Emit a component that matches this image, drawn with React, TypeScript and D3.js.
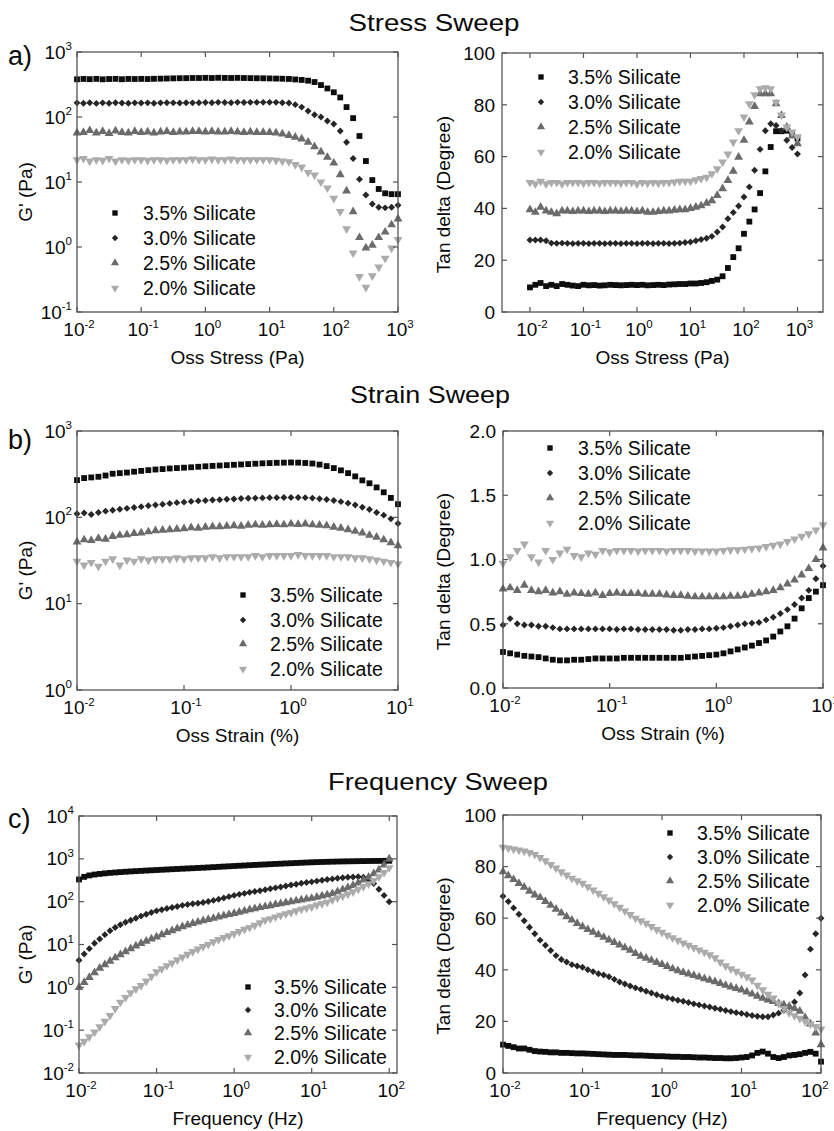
import React from "react";
import * as d3 from "d3";

// ---------- data ----------
const seriesNames = ["3.5% Silicate", "3.0% Silicate", "2.5% Silicate", "2.0% Silicate"];

const stressX = [0.01, 0.0126, 0.0158, 0.02, 0.0251, 0.0316, 0.0398, 0.0501, 0.0631, 0.0794,
  0.1, 0.126, 0.158, 0.2, 0.251, 0.316, 0.398, 0.501, 0.631, 0.794,
  1, 1.26, 1.58, 2, 2.51, 3.16, 3.98, 5.01, 6.31, 7.94,
  10, 12.6, 15.8, 20, 25.1, 31.6, 39.8, 50.1, 63.1, 79.4,
  100, 126, 158, 200, 251, 316, 398, 501, 631, 794, 1000];

const stressG35 = [380, 385, 382, 386, 380, 384, 386, 381, 385, 384, 386, 384, 387, 389, 391, 393, 395, 396, 398, 398,
  400, 398, 401, 399, 398, 400, 398, 396, 395, 394, 392, 390, 388, 385, 378, 372, 362, 345, 310, 275,
  240, 200, 142, 96, 51, 21, 10.7, 7.8, 6.7, 6.5, 6.5];
const stressG30 = [165, 163, 166, 162, 165, 163, 166, 164, 163, 165, 164, 165, 163, 165, 166, 165, 164, 166, 165, 166,
  167, 166, 168, 167, 166, 168, 167, 168, 168, 168, 168, 168, 166, 164, 155, 142, 124, 108, 100, 87,
  78, 61, 41, 23, 11, 6.3, 4.6, 4.1, 4.0, 4.1, 4.4];
const stressG25 = [57, 58, 62, 57, 60, 56, 61, 58, 57, 60, 58, 59, 57, 59, 60, 58, 59, 59, 60, 60,
  59, 60, 59, 59, 60, 59, 58, 59, 58, 58, 58, 57, 55, 52, 49, 46, 41, 35, 29, 24,
  19.6, 13, 7.3, 3.5, 1.4, 0.97, 1.07, 1.4, 1.7, 2.2, 2.7];
const stressG20 = [22, 23, 21, 22, 21.5, 23, 21, 22, 21.5, 22, 22, 21.5, 22, 22, 21.5, 22, 22, 22, 22.5, 22,
  22, 22.5, 22, 22, 22.5, 22, 22, 22, 22, 22, 22, 21.5, 21, 20.5, 18.5, 17, 14, 12.8, 10, 8.1,
  5.6, 3.5, 1.9, 0.81, 0.35, 0.24, 0.36, 0.49, 0.67, 0.96, 1.3];

const stressT35 = [9.5, 10.5, 11.2, 10, 10.5, 10, 10.8, 10.5, 10.2, 10, 10.5, 10.3, 10.4, 10.2, 10.3, 10.5, 10.4, 10.3, 10.4, 10.5,
  10.4, 10.5, 10.3, 10.4, 10.5, 10.4, 10.6, 10.7, 10.8, 10.8, 11, 11, 11.2, 11.5, 12, 12.5, 13.8, 17, 21.2, 24.6,
  30.2, 34.9, 39.6, 45.9, 54.3, 63.7, 69.8, 69.8, 70, 68.5, 67];
const stressT30 = [27.8, 27.8, 27.8, 27.5, 26.6, 26.5, 26.6, 26.5, 26.4, 26.5, 26.5, 26.4, 26.5, 26.5, 26.4, 26.5, 26.5, 26.4, 26.5, 26.5,
  26.4, 26.5, 26.5, 26.4, 26.5, 26.5, 26.4, 26.5, 26.6, 26.8, 27, 27.5, 28, 28.5, 29.2, 30.9, 32.8, 36, 38.4, 40.9,
  44.4, 48.3, 54.7, 62.8, 70, 72.7, 72, 70, 66.3, 63.5, 61];
const stressT25 = [39.5, 38.5, 40.5, 39, 38.5, 38, 39, 39, 38.8, 39, 39, 38.8, 39, 39, 38.8, 39, 39, 38.9, 39, 39,
  38.8, 39, 38.5, 38.5, 38.8, 39, 39, 39.3, 39.5, 39.5, 40, 40.5, 41, 42, 43, 45, 47.6, 50.8, 54.4, 59.8,
  66.3, 73.4, 79.4, 84.3, 84.3, 84.3, 80.4, 75.9, 71.4, 68, 65];
const stressT20 = [50, 49.5, 50.5, 49.5, 50, 50, 49.5, 50, 50, 50, 49.8, 50, 50, 49.8, 50, 50, 50, 49.8, 50, 50,
  49.5, 50, 49.8, 50, 49.8, 50, 50, 50.2, 50.5, 50.5, 50.5, 51, 51.5, 52, 53.4, 55.3, 57.9, 61, 65.6, 70,
  75.3, 80.4, 83.9, 86.2, 86.6, 86.2, 81, 76, 71.4, 69.5, 67.6];

const strainX = [0.01, 0.01166, 0.01359, 0.01585, 0.01848, 0.02154, 0.02512, 0.02929, 0.03415, 0.03981,
  0.04642, 0.05412, 0.0631, 0.07356, 0.08577, 0.1, 0.1166, 0.1359, 0.1585, 0.1848,
  0.2154, 0.2512, 0.2929, 0.3415, 0.3981, 0.4642, 0.5412, 0.631, 0.7356, 0.8577,
  1, 1.166, 1.359, 1.585, 1.848, 2.154, 2.512, 2.929, 3.415, 3.981,
  4.642, 5.412, 6.31, 7.356, 8.577, 10];

const strainG35 = [270, 285, 290, 295, 305, 320, 325, 330, 338, 345, 352, 358, 362, 368, 372, 376, 380, 385, 390, 394,
  398, 402, 406, 410, 414, 418, 422, 425, 428, 430, 432, 430, 426, 420, 408, 392, 372, 350, 325, 298,
  268, 248, 222, 195, 168, 142];
const strainG30 = [110, 112, 108, 114, 118, 121, 124, 127, 130, 133, 136, 139, 142, 145, 148, 150, 153, 155, 157, 159,
  160, 162, 163, 165, 166, 167, 168, 169, 169, 170, 170, 170, 169, 167, 164, 161, 157, 152, 146, 139,
  131, 123, 114, 106, 96, 85];
const strainG25 = [52, 55, 54, 57, 56, 60, 62, 63, 65, 66, 68, 70, 71, 72, 73, 74, 76, 75, 77, 78,
  78, 79, 80, 79, 81, 82, 81, 82, 83, 82, 84, 83, 84, 82, 81, 80, 77, 75, 72, 69,
  66, 62, 59, 55, 51, 47];
const strainG20 = [31, 28, 30, 27, 31, 33, 28, 32, 31, 33, 32, 33, 33, 33, 34, 33, 34, 34, 34, 35,
  34, 35, 35, 35, 35, 36, 35, 36, 36, 36, 36, 37, 36, 36, 36, 36, 35, 35, 35, 34,
  34, 33, 32, 31, 30, 29];

const strainT35 = [0.28, 0.27, 0.26, 0.25, 0.245, 0.24, 0.23, 0.22, 0.215, 0.215, 0.22, 0.22, 0.225, 0.23, 0.23, 0.23, 0.23, 0.235, 0.235, 0.235,
  0.235, 0.235, 0.235, 0.235, 0.235, 0.235, 0.24, 0.245, 0.25, 0.255, 0.26, 0.27, 0.285, 0.3, 0.315, 0.33, 0.35, 0.37, 0.4, 0.44,
  0.48, 0.54, 0.62, 0.7, 0.75, 0.8];
const strainT30 = [0.49, 0.54, 0.5, 0.49, 0.49, 0.48, 0.48, 0.47, 0.46, 0.46, 0.46, 0.46, 0.46, 0.46, 0.46, 0.46, 0.455, 0.46, 0.46, 0.455,
  0.455, 0.455, 0.455, 0.455, 0.45, 0.45, 0.455, 0.455, 0.46, 0.46, 0.465, 0.47, 0.48, 0.49, 0.5, 0.505, 0.51, 0.53, 0.55, 0.58,
  0.61, 0.65, 0.7, 0.76, 0.85, 0.95];
const strainT25 = [0.77, 0.78, 0.76, 0.8, 0.76, 0.75, 0.76, 0.74, 0.75, 0.73, 0.74, 0.735, 0.73, 0.74, 0.72, 0.735, 0.74, 0.735, 0.735, 0.735,
  0.73, 0.73, 0.73, 0.725, 0.72, 0.72, 0.715, 0.71, 0.71, 0.71, 0.71, 0.71, 0.715, 0.715, 0.72, 0.73, 0.74, 0.75, 0.76, 0.78,
  0.81, 0.84, 0.88, 0.93, 1.0, 1.09];
const strainT20 = [0.97, 1.02, 1.07, 1.12, 1.02, 0.98, 1.07, 1.0, 1.05, 1.08, 1.03, 1.02, 1.05, 1.04, 1.07, 1.06, 1.07, 1.07, 1.07, 1.065,
  1.07, 1.07, 1.07, 1.065, 1.07, 1.07, 1.07, 1.065, 1.065, 1.065, 1.065, 1.07, 1.075, 1.075, 1.08, 1.085, 1.09, 1.1, 1.11, 1.12,
  1.14, 1.16, 1.18, 1.2, 1.23, 1.27];

const freqX = [0.01, 0.01166, 0.01359, 0.01585, 0.01848, 0.02154, 0.02512, 0.02929, 0.03415, 0.03981,
  0.04642, 0.05412, 0.0631, 0.07356, 0.08577, 0.1, 0.1166, 0.1359, 0.1585, 0.1848,
  0.2154, 0.2512, 0.2929, 0.3415, 0.3981, 0.4642, 0.5412, 0.631, 0.7356, 0.8577,
  1, 1.166, 1.359, 1.585, 1.848, 2.154, 2.512, 2.929, 3.415, 3.981,
  4.642, 5.412, 6.31, 7.356, 8.577, 10, 11.66, 13.59, 15.85, 18.48,
  21.54, 25.12, 29.29, 34.15, 39.81, 46.42, 54.12, 63.1, 73.56, 85.77, 100];

const freqG35 = [330, 380, 410, 430, 445, 458, 470, 480, 490, 500, 508, 516, 524, 532, 540, 548, 556, 564, 572, 580,
  588, 596, 604, 612, 620, 630, 640, 650, 660, 670, 680, 690, 700, 710, 720, 730, 740, 750, 760, 770,
  780, 790, 800, 810, 820, 830, 838, 845, 852, 858, 864, 870, 874, 878, 882, 886, 889, 892, 895, 898, 900];
const freqG30 = [4.3, 6, 8, 10.7, 13.5, 17, 21, 25, 29, 33, 37, 41, 46, 51, 56, 61, 65, 69, 73, 77,
  82, 86, 89, 92, 96, 101, 107, 114, 122, 131, 140, 148, 156, 165, 172, 180, 190, 200, 210, 220,
  232, 244, 256, 268, 280, 290, 302, 315, 328, 340, 352, 362, 372, 378, 380, 370, 320, 265, 195, 140, 100];
const freqG25 = [1.0, 1.3, 1.7, 2.2, 2.8, 3.4, 4.1, 4.9, 5.8, 6.8, 8.0, 9.3, 10.6, 12, 13.5, 15, 17, 19, 21, 23.5,
  26, 28.5, 31, 33.5, 36, 38.5, 41, 44, 47, 50, 53, 57, 61, 65, 69, 73, 77, 81, 86, 90,
  95, 100, 105, 110, 115, 120, 128, 136, 145, 155, 172, 192, 213, 240, 275, 320, 375, 450, 550, 720, 1000];
const freqG20 = [0.045, 0.055, 0.07, 0.09, 0.12, 0.16, 0.22, 0.32, 0.45, 0.58, 0.75, 0.92, 1.1, 1.4, 1.8, 2.3, 2.7, 3.2, 3.7, 4.4,
  5.1, 5.9, 6.8, 7.8, 8.9, 10, 11.5, 13, 14.5, 16, 18, 20, 22.5, 25, 28, 32, 37, 40, 44, 48,
  52, 56, 61, 66, 71, 76, 83, 90, 97, 110, 122, 135, 150, 170, 195, 225, 260, 310, 380, 480, 620];

const freqT35 = [11, 10.5, 10, 9.5, 9.5, 9, 8.5, 8.3, 8.2, 8, 8, 7.8, 7.8, 7.7, 7.6, 7.6, 7.5, 7.4, 7.3, 7.2,
  7.1, 7, 7, 7, 6.9, 6.8, 6.8, 6.7, 6.6, 6.5, 6.5, 6.4, 6.3, 6.3, 6.2, 6.2, 6.1, 6, 6, 5.9,
  5.8, 5.8, 5.7, 5.7, 5.8, 6.0, 6.2, 6.8, 7.8, 8.3, 7.5, 6.2, 5.8, 6.2, 6.8, 7, 7.3, 7.8, 8.2, 7.5, 4.4];
const freqT30 = [68.5, 66.5, 64, 61.5, 59, 56.5, 54, 51.5, 49.5, 47.5, 45.5, 44, 43, 42, 41.5, 41, 40, 39.3, 38.5, 38,
  37.3, 36.3, 35.3, 34.5, 33.7, 33, 32.4, 31.7, 31, 30.3, 29.7, 29.2, 28.7, 28.2, 27.8, 27.3, 26.8, 26.4, 26, 25.6,
  25.1, 24.7, 24.2, 23.8, 23.4, 23.1, 22.7, 22.3, 22, 21.8, 21.8, 22.5, 23.2, 24.3, 25.7, 27.5, 31, 38, 48, 54, 60];
const freqT25 = [78, 76.5, 75, 73.5, 72, 70.5, 69, 68, 66.5, 65, 63.5, 62, 60.6, 59.3, 58, 56.7, 55.6, 54.6, 53.6, 52.6,
  51.6, 50.6, 49.6, 48.6, 47.6, 46.3, 45.3, 44.5, 43.7, 42.9, 42.1, 41.3, 40.4, 39.7, 39, 38.4, 37.8, 37.2, 36.6, 36,
  35.4, 34.7, 34, 33.4, 32.8, 32.2, 31.4, 30.6, 29.8, 29, 28.3, 27.7, 27, 26.4, 25.8, 25, 24, 21.5, 19, 15.5, 11];
const freqT20 = [87.5, 87.2, 86.8, 86.4, 86, 85.4, 84.7, 83.5, 82.2, 80.8, 79.4, 78, 76.7, 75.5, 74.5, 73.5, 72.2, 70.9, 69.6, 68.3,
  67, 65.6, 64.2, 62.8, 61.4, 60, 59, 58, 56.8, 55.6, 54.5, 53.4, 52.4, 51.4, 50.4, 49.5, 48.6, 47.7, 46.8, 45.8,
  44.6, 43, 41.5, 40.4, 39.4, 38.3, 37.3, 36, 34, 32.2, 30.5, 29, 27, 25, 23.3, 22.2, 21.2, 20, 19, 18, 17];

const stressXTicks = [0.01, 0.1, 1, 10, 100, 1000];
const strainXTicks = [0.01, 0.1, 1, 10];
const freqXTicks = [0.01, 0.1, 1, 10, 100];
const gStressTicks = [0.1, 1, 10, 100, 1000];
const gStrainTicks = [1, 10, 100, 1000];
const gFreqTicks = [0.01, 0.1, 1, 10, 100, 1000, 10000];
const degTicks = [0, 20, 40, 60, 80, 100];
const strainTanTicks = [0, 0.5, 1, 1.5, 2];

// ---------- style ----------
const FONT = "'Liberation Sans', Arial, Helvetica, sans-serif";
const INK = "#0a0a0a";
const COLORS = ["#0d0d0d", "#262626", "#6b6b6b", "#ababab"];
const SYMBOLS = [d3.symbolSquare, d3.symbolSquare, d3.symbolTriangle, d3.symbolTriangle];
const ROT = [0, 45, 0, 180];
const SIZES = [34, 24, 34, 34];
const FRAME = "#555";

type Cfg = {
  left: number; right: number; top: number; bottom: number;
  xDomain: [number, number]; yLog: boolean; yDomain: [number, number];
  xTicks: number[]; yTicks: number[]; yFmt?: (v: number) => string;
  lastXLabelShift?: number;
  xs: number[]; series: number[][];
  legend: { mx: number; tx: number; ys: number[] };
  xTitle: string; yTitle: string; yTitleX: number; yTitleOff: number;
};

function Pow({ x, y, v, anchor }: { x: number; y: number; v: number; anchor: string }) {
  const e = Math.round(Math.log10(v));
  return (
    <text x={x} y={y} textAnchor={anchor} fontSize={19} fontFamily={FONT} fill={INK}>
      10<tspan fontSize={11.5} dy={-8.5}>{e}</tspan>
    </text>
  );
}

function Panel({ c }: { c: Cfg }) {
  const x = d3.scaleLog().domain(c.xDomain).range([c.left, c.right]);
  const y = c.yLog
    ? d3.scaleLog().domain(c.yDomain).range([c.bottom, c.top])
    : d3.scaleLinear().domain(c.yDomain).range([c.bottom, c.top]);
  const sym = (i: number) => d3.symbol().type(SYMBOLS[i]).size(SIZES[i])() as string;
  const tl = 5;
  return (
    <g>
      {c.series.map((s, si) => (
        <g key={si} fill={COLORS[si]}>
          {s.map((v, k) => (
            <path key={k} d={sym(si)} transform={`translate(${x(c.xs[k])},${y(v)}) rotate(${ROT[si]})`} />
          ))}
        </g>
      ))}
      <rect x={c.left} y={c.top} width={c.right - c.left} height={c.bottom - c.top} fill="none" stroke={FRAME} strokeWidth={1.3} />
      {c.xTicks.map((t, i) => (
        <g key={"xt" + i}>
          <line x1={x(t)} x2={x(t)} y1={c.bottom} y2={c.bottom - tl} stroke={FRAME} strokeWidth={1.2} />
          <line x1={x(t)} x2={x(t)} y1={c.top} y2={c.top + tl} stroke={FRAME} strokeWidth={1.2} />
          <Pow x={x(t) + 2 + (i === c.xTicks.length - 1 ? (c.lastXLabelShift || 0) : 0)} y={c.bottom + 24} v={t} anchor="middle" />
        </g>
      ))}
      {c.yTicks.map((t, i) => (
        <g key={"yt" + i}>
          <line x1={c.left} x2={c.left + tl} y1={y(t)} y2={y(t)} stroke={FRAME} strokeWidth={1.2} />
          <line x1={c.right} x2={c.right - tl} y1={y(t)} y2={y(t)} stroke={FRAME} strokeWidth={1.2} />
          {c.yLog ? (
            <Pow x={c.left - 5} y={y(t) + 6.5} v={t} anchor="end" />
          ) : (
            <text x={c.left - 7} y={y(t) + 6.8} textAnchor="end" fontSize={19} fontFamily={FONT} fill={INK}>
              {c.yFmt ? c.yFmt(t) : String(t)}
            </text>
          )}
        </g>
      ))}
      <text x={(c.left + c.right) / 2} y={c.bottom + 52} textAnchor="middle" fontSize={19} fontFamily={FONT} fill={INK}>
        {c.xTitle}
      </text>
      <text transform={`translate(${c.yTitleX},${(c.top + c.bottom) / 2 + c.yTitleOff}) rotate(-90)`} textAnchor="middle" fontSize={19} fontFamily={FONT} fill={INK}>
        {c.yTitle}
      </text>
      {seriesNames.map((n, si) => (
        <g key={"lg" + si}>
          <path d={d3.symbol().type(SYMBOLS[si]).size(SIZES[si] * 0.85)() as string} fill={COLORS[si]}
            transform={`translate(${c.legend.mx},${c.legend.ys[si]}) rotate(${ROT[si]})`} />
          <text x={c.legend.tx} y={c.legend.ys[si] + 7} fontSize={19.5} fontFamily={FONT} fill={INK}>{n}</text>
        </g>
      ))}
    </g>
  );
}

const panels: Cfg[] = [
  {
    left: 77, right: 398, top: 52, bottom: 312, xDomain: [0.01, 1000], yLog: true, yDomain: [0.1, 1000],
    xTicks: stressXTicks, yTicks: gStressTicks, xs: stressX, series: [stressG35, stressG30, stressG25, stressG20],
    legend: { mx: 115, tx: 143, ys: [213, 238, 263, 288] }, xTitle: "Oss Stress (Pa)", yTitle: "G' (Pa)", yTitleX: 32, yTitleOff: 10,
  },
  {
    left: 502, right: 823, top: 53, bottom: 312, xDomain: [0.003, 3000], yLog: false, yDomain: [0, 100],
    xTicks: stressXTicks, yTicks: degTicks, xs: stressX, series: [stressT35, stressT30, stressT25, stressT20],
    legend: { mx: 541, tx: 568, ys: [77, 102, 127, 152] }, xTitle: "Oss Stress (Pa)", yTitle: "Tan delta (Degree)", yTitleX: 450, yTitleOff: 12,
  },
  {
    left: 77, right: 398, top: 431, bottom: 690, xDomain: [0.01, 10], yLog: true, yDomain: [1, 1000],
    xTicks: strainXTicks, yTicks: gStrainTicks, xs: strainX, series: [strainG35, strainG30, strainG25, strainG20],
    legend: { mx: 243, tx: 270, ys: [595, 620, 644, 669] }, xTitle: "Oss Strain (%)", yTitle: "G' (Pa)", yTitleX: 32, yTitleOff: 10,
  },
  {
    left: 503, right: 823, top: 431, bottom: 688, xDomain: [0.01, 10], yLog: false, yDomain: [0, 2],
    xTicks: strainXTicks, yTicks: strainTanTicks, yFmt: (v) => v.toFixed(1), xs: strainX, lastXLabelShift: 0,
    series: [strainT35, strainT30, strainT25, strainT20],
    legend: { mx: 550, tx: 578, ys: [448, 473, 498, 523] }, xTitle: "Oss Strain (%)", yTitle: "Tan delta (Degree)", yTitleX: 450, yTitleOff: 12,
  },
  {
    left: 79, right: 397, top: 816, bottom: 1073, xDomain: [0.01, 125.9], yLog: true, yDomain: [0.01, 10000],
    xTicks: freqXTicks, yTicks: gFreqTicks, xs: freqX, series: [freqG35, freqG30, freqG25, freqG20],
    legend: { mx: 248, tx: 274, ys: [987, 1010, 1033, 1057] }, xTitle: "Frequency (Hz)", yTitle: "G' (Pa)", yTitleX: 32, yTitleOff: 10,
  },
  {
    left: 503, right: 821, top: 815, bottom: 1073, xDomain: [0.01, 100], yLog: false, yDomain: [0, 100],
    xTicks: freqXTicks, yTicks: degTicks, xs: freqX, lastXLabelShift: -8, series: [freqT35, freqT30, freqT25, freqT20],
    legend: { mx: 670, tx: 697, ys: [833, 857, 881, 905] }, xTitle: "Frequency (Hz)", yTitle: "Tan delta (Degree)", yTitleX: 450, yTitleOff: 12,
  },
];

const titles = [
  { text: "Stress Sweep", x: 434, y: 31, len: 171 },
  { text: "Strain Sweep", x: 430, y: 403, len: 160 },
  { text: "Frequency Sweep", x: 438, y: 790, len: 220 },
];
const panelLabels = [
  { text: "a)", y: 65 },
  { text: "b)", y: 449 },
  { text: "c)", y: 828 },
];

export default function App() {
  return (
    <svg width={834} height={1131} style={{ position: "absolute", left: 0, top: 0, background: "#fff" }}>
      <rect x={0} y={0} width={834} height={1131} fill="#fff" />
      {titles.map((t, i) => (
        <text key={i} x={t.x} y={t.y} textAnchor="middle" fontSize={24} fontFamily={FONT} fill={INK}
          textLength={t.len} lengthAdjust="spacingAndGlyphs">{t.text}</text>
      ))}
      {panelLabels.map((p, i) => (
        <text key={i} x={8} y={p.y} fontSize={27} fontFamily={FONT} fill={INK}>{p.text}</text>
      ))}
      {panels.map((c, i) => <Panel key={i} c={c} />)}
    </svg>
  );
}
